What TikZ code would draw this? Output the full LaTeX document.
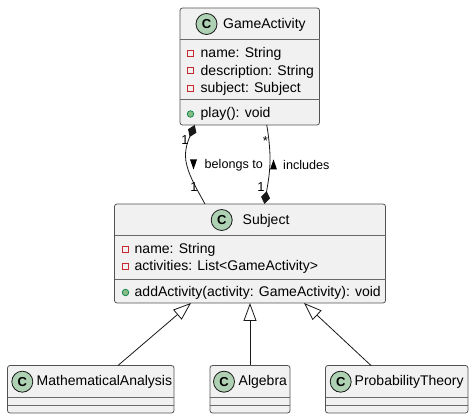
\documentclass[tikz,border=0pt]{standalone}
\usepackage{fontspec}
\setmainfont{Liberation Sans}
\usetikzlibrary{arrows.meta,calc}
\definecolor{boxfill}{HTML}{F1F1F1}
\definecolor{ink}{HTML}{181818}
\definecolor{spot}{HTML}{ADD1B2}
\definecolor{priv}{HTML}{C82930}
\definecolor{pubfill}{HTML}{84BE84}
\definecolor{publine}{HTML}{038048}
\tikzset{
  x=1pt,y=-1pt,
  classbox/.style={draw=ink!75,line width=0.8pt,fill=boxfill,rounded corners=2.5pt,anchor=north west,inner sep=0pt,outer sep=0pt},
  rowline/.style={draw=ink!65,line width=0.7pt},
  spotc/.style={circle,draw=ink,line width=0.8pt,fill=spot,minimum size=21pt,inner sep=0pt,font=\fontsize{13}{13}\selectfont\bfseries},
  title/.style={anchor=west,inner sep=0pt,font=\fontsize{14}{14}\selectfont,text=black},
  member/.style={anchor=west,inner sep=0pt,font=\fontsize{14}{14}\selectfont,text=black},
  lab/.style={anchor=west,inner sep=0pt,font=\fontsize{12.6}{13}\selectfont,text=black},
  mult/.style={inner sep=0pt,font=\fontsize{13}{13}\selectfont,text=black},
  privm/.style={fill=priv,minimum size=7pt,inner sep=0pt,outer sep=0pt,
    path picture={\fill[boxfill] ([shift={(-2.4,-2.4)}]path picture bounding box.center) rectangle ([shift={(2.4,2.4)}]path picture bounding box.center);}},
  pubm/.style={circle,draw=publine,line width=0.7pt,fill=pubfill,minimum size=6.5pt,inner sep=0pt},
  link/.style={draw=ink,line width=0.8pt},
  ext/.style={link,-{Triangle[open,length=18pt,width=13pt,fill=white]}},
  comp/.style={link,{Diamond[length=13pt,width=9pt,fill=ink]}-},
}
\begin{document}
\begin{tikzpicture}
\useasboundingbox (0,0) rectangle (474,419);
% classes
\node[classbox,minimum width=139.5pt,minimum height=117pt] (GA) at (180,8) {};
\node[classbox,minimum width=271pt,minimum height=99pt] (S) at (114.5,204) {};
\node[classbox,minimum width=166.5pt,minimum height=47.5pt] (MA) at (7.5,365.5) {};
\node[classbox,minimum width=80pt,minimum height=47.5pt] (AL) at (210,365.5) {};
\node[classbox,minimum width=142.5pt,minimum height=47.5pt] (PT) at (325.5,365.5) {};
% dividers
\draw[rowline] (180,39.5)--(319.5,39.5) (180,99)--(319.5,99);
\draw[rowline] (114.5,235.5)--(385.5,235.5) (114.5,279)--(385.5,279);
\draw[rowline] (7.5,397.5)--(174,397.5) (7.5,405.5)--(174,405.5);
\draw[rowline] (210,397.5)--(290,397.5) (210,405.5)--(290,405.5);
\draw[rowline] (325.5,397.5)--(468,397.5) (325.5,405.5)--(468,405.5);
% headers
\node[spotc] (c1) at (206.5,24) {C};
\node[title] (t1) at (223,24.5) {GameActivity};
\node[spotc] (c2) at (221.7,220) {C};
\node[title] (t2) at (242.5,220.5) {Subject};
\node[spotc] (c3) at (22.3,381.7) {C};
\node[title] (t3) at (36.5,382.2) {MathematicalAnalysis};
\node[spotc] (c4) at (224,381.7) {C};
\node[title] (t4) at (238.5,382.2) {Algebra};
\node[spotc] (c5) at (340.7,381.7) {C};
\node[title] (t5) at (354.5,382.2) {ProbabilityTheory};
% members of GameActivity
\node[privm] (g1m) at (190.5,53.5) {};
\node[member] (g1) at (200.5,54) {name: String};
\node[privm] (g2m) at (190.5,70.5) {};
\node[member] (g2) at (200.5,71.5) {description: String};
\node[privm] (g3m) at (190.5,88.5) {};
\node[member] (g3) at (200.5,89) {subject: Subject};
\node[pubm] (g4m) at (190.5,114) {};
\node[member] (g4) at (200.5,114) {play(): void};
% members of Subject
\node[privm] (s1m) at (125.5,249.5) {};
\node[member] (s1) at (134.5,250) {name: String};
\node[privm] (s2m) at (125.5,266.5) {};
\node[member] (s2) at (134.5,267) {activities: List<GameActivity>};
\node[pubm] (s3m) at (125.5,292.5) {};
\node[member] (s3) at (134.5,293) {addActivity(activity: GameActivity): void};
% generalisations
\draw[ext] ([xshift=27.25pt]MA.north) -- ([xshift=-59pt]S.south);
\draw[ext] (AL.north) -- (S.south);
\draw[ext] ([xshift=-25.75pt]PT.north) -- ([xshift=54pt]S.south);
% compositions
\draw[comp] ([xshift=-55pt]GA.south) .. controls (188,141) and (183,152) .. (187,166) .. controls (190,178) and (199,193) .. ([xshift=-45pt]S.north);
\draw[comp] ([xshift=14.5pt]S.north) .. controls (268,183) and (270.5,170) .. (270,155) .. controls (269.5,143) and (268,132) .. ([xshift=17pt]GA.south);
% labels
\fill[black] (190,159.5)--(197,159.5)--(193.5,169.5)--cycle;
\node[lab] (l1) at (204.5,165) {belongs to};
\fill[black] (270,169.5)--(277,169.5)--(273.5,159.5)--cycle;
\node[lab] (l2) at (283,165) {includes};
\node[mult] (m1) at (185,140) {1};
\node[mult] (m2) at (194,187) {1};
\node[mult] (m3) at (265.5,141) {*};
\node[mult] (m4) at (261,187) {1};
\end{tikzpicture}
\end{document}
